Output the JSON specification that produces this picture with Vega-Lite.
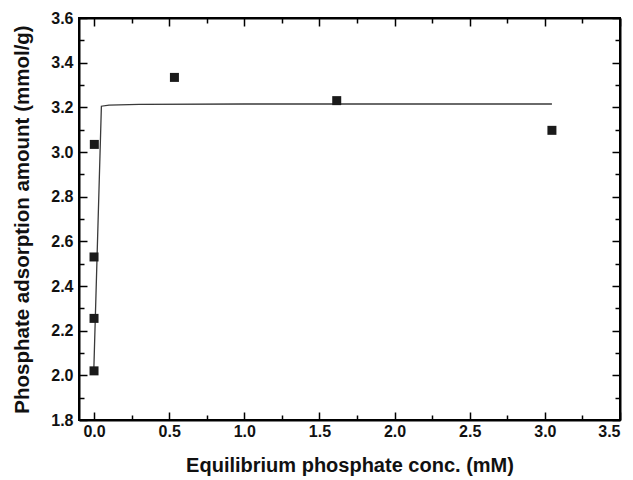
{
  "$schema": "https://vega.github.io/schema/vega-lite/v6.json",
  "width": 541,
  "height": 402,
  "autosize": "none",
  "padding": {"left": 79, "top": 18, "right": 13, "bottom": 60},
  "background": "white",
  "config": {
    "view": {"stroke": "black", "strokeWidth": 2},
    "axis": {
      "grid": false,
      "domainColor": "black",
      "domainWidth": 2,
      "tickColor": "black",
      "tickWidth": 1.5,
      "labelFont": "Liberation Sans",
      "labelFontWeight": "bold",
      "labelFontSize": 16,
      "labelColor": "#111111",
      "titleFont": "Liberation Sans",
      "titleFontWeight": "bold",
      "titleColor": "#111111"
    }
  },
  "datasets": {
    "points": [
      {"c": 0.0, "q": 2.02},
      {"c": 0.0, "q": 2.255},
      {"c": 0.0, "q": 2.53},
      {"c": 0.002, "q": 3.034},
      {"c": 0.535, "q": 3.334},
      {"c": 1.615, "q": 3.23},
      {"c": 3.047, "q": 3.097}
    ],
    "fit": [
      {"c": -0.002, "q": 2.01},
      {"c": 0.049, "q": 3.205},
      {"c": 0.1, "q": 3.21},
      {"c": 0.3, "q": 3.213},
      {"c": 1.0, "q": 3.215},
      {"c": 3.047, "q": 3.215}
    ]
  },
  "layer": [
    {
      "data": {"name": "fit"},
      "mark": {"type": "line", "color": "#3a3a3a", "strokeWidth": 1.3},
      "encoding": {
        "x": {
          "field": "c", "type": "quantitative",
          "scale": {"domain": [-0.1, 3.5], "nice": false, "zero": false},
          "axis": {
            "orient": "top", "labels": false, "title": null,
            "values": [0, 0.25, 0.5, 0.75, 1, 1.25, 1.5, 1.75, 2, 2.25, 2.5, 2.75, 3, 3.25, 3.5],
            "tickSize": {"condition": {"test": "abs(round(datum.value*2)-datum.value*2)<0.01", "value": -8}, "value": -5}
          }
        },
        "y": {
          "field": "q", "type": "quantitative",
          "scale": {"domain": [1.8, 3.6], "nice": false, "zero": false},
          "axis": {
            "orient": "right", "labels": false, "title": null,
            "values": [1.8, 1.9, 2.0, 2.1, 2.2, 2.3, 2.4, 2.5, 2.6, 2.7, 2.8, 2.9, 3.0, 3.1, 3.2, 3.3, 3.4, 3.5, 3.6],
            "tickSize": {"condition": {"test": "abs(round(datum.value*5)-datum.value*5)<0.01", "value": -8}, "value": -5}
          }
        }
      }
    },
    {
      "data": {"name": "points"},
      "mark": {"type": "square", "size": 81, "color": "#1a1a1a", "opacity": 1},
      "encoding": {
        "x": {
          "field": "c", "type": "quantitative",
          "scale": {"domain": [-0.1, 3.5], "nice": false, "zero": false},
          "axis": {
            "orient": "bottom",
            "title": "Equilibrium phosphate conc. (mM)",
            "titleFontSize": 20,
            "titlePadding": 16,
            "labelPadding": 11,
            "values": [0, 0.25, 0.5, 0.75, 1, 1.25, 1.5, 1.75, 2, 2.25, 2.5, 2.75, 3, 3.25, 3.5],
            "labelExpr": "abs(round(datum.value*2)-datum.value*2)<0.01 ? format(datum.value, '.1f') : ''",
            "tickSize": {"condition": {"test": "abs(round(datum.value*2)-datum.value*2)<0.01", "value": -8}, "value": -5}
          }
        },
        "y": {
          "field": "q", "type": "quantitative",
          "scale": {"domain": [1.8, 3.6], "nice": false, "zero": false},
          "axis": {
            "orient": "left",
            "title": "Phosphate adsorption amount (mmol/g)",
            "titleFontSize": 20.5,
            "titlePadding": 18,
            "labelPadding": 14,
            "values": [1.8, 1.9, 2.0, 2.1, 2.2, 2.3, 2.4, 2.5, 2.6, 2.7, 2.8, 2.9, 3.0, 3.1, 3.2, 3.3, 3.4, 3.5, 3.6],
            "labelExpr": "abs(round(datum.value*5)-datum.value*5)<0.01 ? format(datum.value, '.1f') : ''",
            "tickSize": {"condition": {"test": "abs(round(datum.value*5)-datum.value*5)<0.01", "value": -8}, "value": -5}
          }
        }
      }
    }
  ],
  "resolve": {"axis": {"x": "independent", "y": "independent"}}
}
